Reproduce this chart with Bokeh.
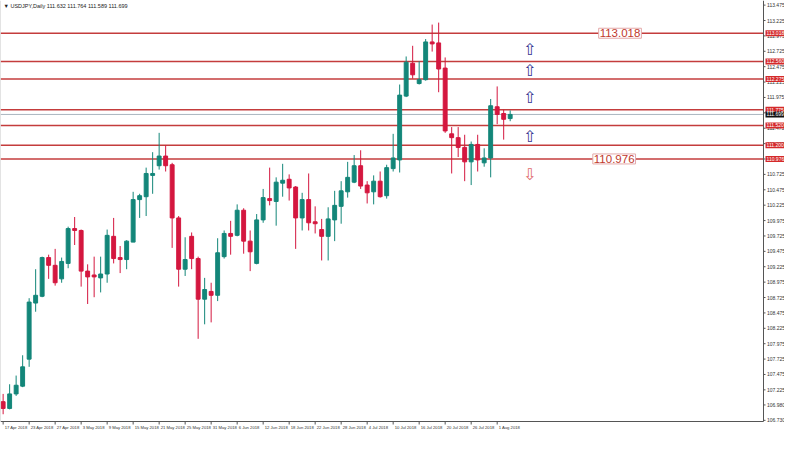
from bokeh.plotting import figure
from bokeh.models import Range1d, Label, ColumnDataSource
from bokeh.embed import file_html
from bokeh.resources import INLINE
from bokeh.core.properties import value

# ---------------- data ----------------
opens = [107.033, 106.923, 107.159, 107.285, 107.724, 108.635, 108.745, 109.374, 109.248, 109.028,
         109.279, 109.845, 109.814, 109.154, 109.091, 109.044, 109.107, 109.719, 109.374, 109.342,
         109.625, 110.316, 110.363, 110.709, 110.866, 111.023, 110.882, 110.018, 109.185, 109.719,
         109.358, 108.698, 108.824, 108.761, 109.389, 109.766, 109.735, 110.143, 109.641, 109.279,
         109.986, 110.332, 110.285, 110.583, 110.646, 110.520, 110.018, 110.316, 109.955, 109.829,
         109.719, 109.986, 110.206, 110.442, 110.599, 110.866, 110.552, 110.442, 110.615, 110.379,
         110.819, 110.960, 111.997, 112.531, 112.201, 112.264, 112.877, 112.861, 112.452, 111.384,
         111.322, 111.164, 110.929, 111.212, 110.913, 110.992, 111.824, 111.714, 111.632]
highs = [107.159, 107.316, 107.457, 107.787, 108.714, 109.185, 109.389, 109.421, 109.515, 109.374,
         109.876, 110.033, 109.829, 109.264, 109.389, 109.389, 109.829, 110.018, 109.562, 109.656,
         110.442, 110.410, 110.835, 111.086, 111.400, 111.196, 110.913, 110.049, 109.704, 109.782,
         109.389, 109.044, 108.965, 109.688, 109.814, 109.971, 110.238, 110.175, 109.814, 110.081,
         110.489, 110.835, 110.677, 110.897, 110.725, 110.536, 110.426, 110.740, 110.206, 110.002,
         110.191, 110.458, 110.615, 110.929, 111.039, 111.117, 110.615, 110.709, 110.772, 110.882,
         111.384, 112.185, 112.641, 112.814, 112.562, 112.924, 113.159, 113.191, 112.625, 111.494,
         111.494, 111.369, 111.259, 111.369, 111.149, 111.950, 112.154, 111.777, 111.764]
lows = [106.829, 106.908, 107.127, 107.269, 107.599, 108.494, 108.730, 109.028, 108.918, 108.965,
        109.201, 109.578, 108.902, 108.620, 108.730, 108.808, 108.965, 109.279, 109.122, 109.185,
        109.625, 110.018, 110.049, 110.410, 110.803, 110.772, 109.531, 108.902, 109.075, 109.185,
        108.054, 108.290, 108.321, 108.667, 109.358, 109.421, 109.719, 109.437, 109.154, 109.264,
        109.939, 110.222, 109.892, 110.363, 110.300, 109.515, 109.814, 109.814, 109.766, 109.327,
        109.327, 109.641, 109.924, 110.348, 110.583, 110.489, 110.253, 110.238, 110.348, 110.332,
        110.772, 110.756, 111.981, 112.280, 112.185, 112.248, 112.720, 112.060, 111.400, 110.740,
        111.007, 110.615, 110.552, 110.772, 110.850, 110.677, 111.541, 111.290, 111.589]
closes = [106.923, 107.159, 107.300, 107.599, 108.651, 108.761, 109.374, 109.248, 108.965, 109.311,
          109.845, 109.814, 109.154, 109.060, 109.060, 109.107, 109.735, 109.358, 109.342, 109.641,
          110.316, 110.379, 110.740, 110.740, 111.023, 110.866, 110.018, 109.185, 109.342, 109.358,
          108.698, 108.855, 108.761, 109.452, 109.766, 109.719, 110.143, 109.641, 109.468, 109.986,
          110.348, 110.300, 110.599, 110.630, 110.505, 110.018, 110.316, 109.939, 109.924, 109.719,
          110.002, 110.222, 110.458, 110.677, 110.866, 110.536, 110.426, 110.615, 110.363, 110.835,
          110.992, 112.013, 112.547, 112.343, 112.264, 112.877, 112.845, 112.437, 111.431, 111.322,
          111.164, 110.929, 111.212, 110.960, 110.992, 111.840, 111.699, 111.620, 111.699]

date_ticks = [0, 4, 8, 12, 16, 20, 24, 28, 32, 36, 40, 44, 48, 52, 56, 60, 64, 68, 72, 76]
date_labels = ["17 Apr 2018", "23 Apr 2018", "27 Apr 2018", "3 May 2018", "9 May 2018",
               "15 May 2018", "21 May 2018", "25 May 2018", "31 May 2018", "6 Jun 2018",
               "12 Jun 2018", "18 Jun 2018", "22 Jun 2018", "28 Jun 2018", "4 Jul 2018",
               "10 Jul 2018", "16 Jul 2018", "20 Jul 2018", "26 Jul 2018", "1 Aug 2018"]

price_ticks = [113.475, 113.225, 112.975, 112.725, 112.475, 112.225, 111.975, 111.725, 111.475,
               111.225, 110.975, 110.725, 110.475, 110.225, 109.975, 109.725, 109.475, 109.225,
               108.975, 108.725, 108.475, 108.225, 107.975, 107.725, 107.475, 107.225, 106.980,
               106.730]

levels = [113.018, 112.560, 112.275, 111.775, 111.520, 111.200, 110.976]
current_price = 111.699
title_text = "\u25bc USDJPY,Daily  111.632 111.764 111.589 111.699"

box_levels = [113.018, 110.976]
box_x = [94.9, 94.0]

arrow_x = 81
up_arrows = [112.756, 112.410, 111.981, 111.342]
down_arrows = [110.725]

# ---------------- layout / styling ----------------
GREEN = "#138679"
RED = "#d4173f"
LEVEL = "#c43c3c"
AXIS = "#555555"
TXT = "#333333"
FONT = "Liberation Sans"

W, H = 784, 434
CHART_W, CHART_H = 763, 421          # chart area in px; the rest holds the axis texts
x_lo, x_hi = -0.406, 116.97
y_lo, y_hi = 106.711, 113.550
dpx = (x_hi - x_lo) / CHART_W
dpy = (y_hi - y_lo) / CHART_H

p = figure(width=W, height=H,
           x_range=Range1d(x_lo, x_lo + W * dpx), y_range=Range1d(y_hi - H * dpy, y_hi),
           x_axis_type=None, y_axis_type=None, output_backend="svg", toolbar_location=None,
           min_border_left=0, min_border_right=0, min_border_top=0, min_border_bottom=0)
p.grid.visible = False
p.outline_line_color = None
p.background_fill_color = "white"
p.border_fill_color = "white"

# current price line and level lines
p.segment(x0=[x_lo], y0=[current_price], x1=[x_hi], y1=[current_price],
          line_color="#aab6c0", line_width=1)
p.segment(x0=[x_lo] * len(levels), y0=levels, x1=[x_hi] * len(levels), y1=levels,
          line_color=LEVEL, line_width=1.5)

# candles
idx = list(range(len(opens)))
colors = [GREEN if c >= o else RED for o, c in zip(opens, closes)]
src = ColumnDataSource(dict(x=idx, o=opens, h=highs, l=lows, c=closes,
                            top=[max(o, c) for o, c in zip(opens, closes)],
                            bot=[min(o, c) for o, c in zip(opens, closes)],
                            col=colors))
p.segment(x0="x", y0="l", x1="x", y1="h", line_color="col", line_width=1, source=src)
p.vbar(x="x", width=0.6, top="top", bottom="bot", fill_color="col", line_color="col",
       line_width=1, source=src)

# arrows
p.text(x=[arrow_x] * len(up_arrows), y=up_arrows, text=["\u21e7"] * len(up_arrows),
       text_font=value("DejaVu Sans"), text_font_size="16px", text_color="#34348f",
       text_align="center", text_baseline="middle")
p.text(x=[arrow_x] * len(down_arrows), y=down_arrows, text=["\u21e9"] * len(down_arrows),
       text_font=value("DejaVu Sans"), text_font_size="16px", text_color="#e06a6a",
       text_align="center", text_baseline="middle")

# boxed level labels on the chart
for bx, bl in zip(box_x, box_levels):
    p.add_layout(Label(x=bx, y=bl, text=f"{bl:.3f}", text_align="center", text_baseline="middle",
                       text_font=FONT, text_font_size="11.5px", text_color="#c0392b",
                       background_fill_color="white", border_line_color="#e3a9a9",
                       border_line_width=1, padding=1))

# axis lines
p.segment(x0=[x_hi], y0=[y_lo], x1=[x_hi], y1=[y_hi], line_color=AXIS, line_width=1)
p.segment(x0=[x_lo], y0=[y_lo], x1=[x_hi], y1=[y_lo], line_color=AXIS, line_width=1)
p.segment(x0=[x_lo], y0=[y_lo], x1=[x_lo], y1=[y_hi], line_color="#c8c8c8", line_width=1)

# right price axis: ticks and labels
p.segment(x0=[x_hi] * len(price_ticks), y0=price_ticks,
          x1=[x_hi + 2 * dpx] * len(price_ticks), y1=price_ticks, line_color=AXIS, line_width=1)
p.text(x=[x_hi + 3.5 * dpx] * len(price_ticks), y=price_ticks,
       text=[f"{t:.3f}" for t in price_ticks], text_font=value(FONT), text_font_size="5px",
       text_color=TXT, text_align="left", text_baseline="middle")

# price tags (red levels, black current price)
tag_prices = levels + [current_price]
tag_colors = ["#d42a2a"] * len(levels) + ["#111111"]
p.rect(x=[x_hi + 11.5 * dpx] * len(tag_prices), y=tag_prices, width=19, height=6,
       width_units="screen", height_units="screen", fill_color=tag_colors, line_color=None)
p.text(x=[x_hi + 3 * dpx] * len(tag_prices), y=tag_prices,
       text=[f"{t:.3f}" for t in tag_prices], text_font=value(FONT), text_font_size="5px",
       text_color="white", text_align="left", text_baseline="middle")

# bottom date axis: ticks and labels
p.segment(x0=date_ticks, y0=[y_lo] * len(date_ticks), x1=date_ticks,
          y1=[y_lo - 3 * dpy] * len(date_ticks), line_color=AXIS, line_width=1)
p.text(x=[t + 1.5 * dpx for t in date_ticks], y=[y_lo - 6 * dpy] * len(date_ticks),
       text=date_labels, text_font=value(FONT), text_font_size="4.2px", text_color=TXT,
       text_align="left", text_baseline="middle")

# title
p.text(x=[x_lo + 3 * dpx], y=[y_hi - 2.5 * dpy], text=[title_text], text_font=value(FONT),
       text_font_size="5.5px", text_color="#222222", text_align="left", text_baseline="top")

open("out.html", "w").write(file_html(p, INLINE))
